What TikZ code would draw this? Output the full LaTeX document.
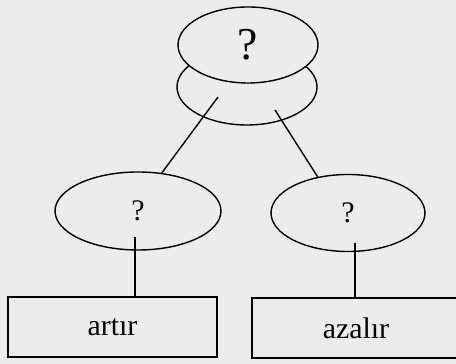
\documentclass[tikz,border=0pt]{standalone}
\usepackage{fontspec}
\setmainfont{Liberation Serif}
\usetikzlibrary{shapes.geometric}
\definecolor{paper}{RGB}{236,236,236}
\begin{document}
\begin{tikzpicture}[line width=0.8pt, every node/.style={inner sep=0cm, fill=paper},
	oval/.style={ellipse, draw},
	answer/.style={rectangle, draw, minimum width=4.18cm, minimum height=1.2cm}]
	\useasboundingbox[fill=paper] (0,0) rectangle (9.12,7.28);
	\fontsize{17}{20}\selectfont
	\node (low) at (4.94,5.54) [oval, minimum width=2.8cm, minimum height=1.52cm] {};
	\node (top) at (4.96,6.38) [oval, minimum width=2.8cm, minimum height=1.52cm] {\fontsize{26}{30}\selectfont ?};
	\node (lq) at (2.76,3.06) [oval, minimum width=3.32cm, minimum height=1.56cm] {?};
	\node (rq) at (6.96,3.02) [oval, minimum width=3.08cm, minimum height=1.54cm] {?};
	\node (lbox) at (2.25,0.74) [answer] {art\i r};
	\node (rbox) at (7.12,0.72) [answer, minimum width=4.16cm] {azal\i r};
	
	\coordinate (la) at (4.36,5.34);
	\coordinate (ra) at (5.50,5.08);
	\coordinate (lb) at (2.70,2.54);
	\coordinate (rb) at (7.10,2.42);
	
	\draw[-] (la) to (lq.58);
	\draw[-] (ra) to (rq.130);
	\draw[-] (lb) to (lb |- lbox.north);
	\draw[-] (rb) to (rb |- rbox.north);
	
\end{tikzpicture}
\end{document}
